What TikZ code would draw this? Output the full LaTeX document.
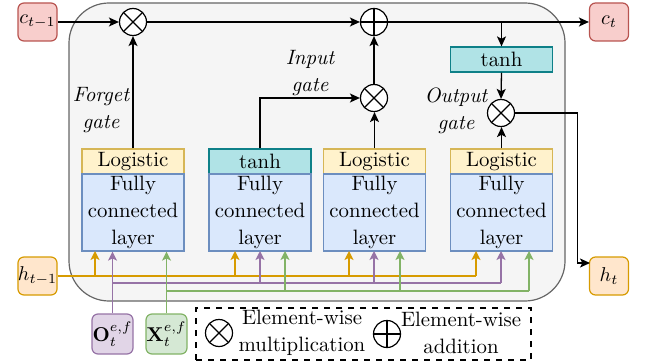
\documentclass[tikz,border=0pt]{standalone}
\usetikzlibrary{arrows.meta}
\definecolor{cellfill}{HTML}{F5F5F5}
\definecolor{celldraw}{HTML}{666666}
\definecolor{logfill}{HTML}{FFF2CC}
\definecolor{logdraw}{HTML}{D6B656}
\definecolor{fcfill}{HTML}{DAE8FC}
\definecolor{fcdraw}{HTML}{6C8EBF}
\definecolor{thfill}{HTML}{B0E3E6}
\definecolor{thdraw}{HTML}{0E8088}
\definecolor{cfill}{HTML}{F8CECC}
\definecolor{cdraw}{HTML}{B85450}
\definecolor{hfill}{HTML}{FFE6CC}
\definecolor{hdraw}{HTML}{D79B00}
\definecolor{ofill}{HTML}{E1D5E7}
\definecolor{odraw}{HTML}{9673A6}
\definecolor{xfill}{HTML}{D5E8D4}
\definecolor{xdraw}{HTML}{82B366}
\begin{document}
\begin{tikzpicture}[x=0.5pt,y=-0.5pt,
  font=\fontsize{10.4}{13.5}\selectfont,
  box/.style={draw, line width=0.6pt, inner sep=0pt, align=center},
  hdr/.style={box, minimum width=51pt, minimum height=12.5pt},
  logi/.style={hdr, fill=logfill, draw=logdraw},
  thbox/.style={hdr, fill=thfill, draw=thdraw},
  fcbox/.style={box, minimum width=51pt, minimum height=38.5pt, fill=fcfill, draw=fcdraw},
  term/.style={box, rounded corners=3pt, minimum width=19.5pt, minimum height=19pt},
  opbase/.style={circle, draw, fill=white, line width=0.6pt, minimum size=13.5pt, inner sep=0pt},
  otimes/.style={opbase, path picture={
     \draw[line width=0.6pt] (path picture bounding box.north west) -- (path picture bounding box.south east)
       (path picture bounding box.north east) -- (path picture bounding box.south west);}},
  oplus/.style={opbase, path picture={
     \draw[line width=0.6pt] (path picture bounding box.north) -- (path picture bounding box.south)
       (path picture bounding box.east) -- (path picture bounding box.west);}},
  lbl/.style={font=\fontsize{10.4}{13.5}\selectfont\itshape, align=center, inner sep=0pt},
  arr/.style={-{Stealth[length=5pt,width=4.5pt,inset=1.2pt]}, line width=0.65pt},
  oline/.style={draw=hdraw, line width=0.7pt},
  pline/.style={draw=odraw, line width=0.7pt},
  gline/.style={draw=xdraw, line width=0.7pt},
  oarr/.style={oline, -{Stealth[length=4.5pt,width=4.5pt,inset=1.1pt]}},
  parr/.style={pline, -{Stealth[length=4.5pt,width=4.5pt,inset=1.1pt]}},
  garr/.style={gline, -{Stealth[length=4.5pt,width=4.5pt,inset=1.1pt]}},
]
\useasboundingbox (0,0) rectangle (646,363);

% cell
\node[draw=celldraw, fill=cellfill, line width=0.6pt, rounded corners=20pt,
      minimum width=248pt, minimum height=149pt, inner sep=0pt] (cell) at (317,152) {};

% terminals
\node[term, fill=cfill, draw=cdraw] (cprev) at (37.5,22) {$c_{t-1}$};
\node[term, fill=cfill, draw=cdraw] (ct) at (609,22) {$c_t$};
\node[term, fill=hfill, draw=hdraw] (hprev) at (37.5,276) {$h_{t-1}$};
\node[term, fill=hfill, draw=hdraw] (ht) at (609,276) {$h_t$};
\node[box, rounded corners=3pt, minimum width=20.5pt, minimum height=20pt, fill=ofill, draw=odraw] (obox) at (112.5,334) {$\mathbf{O}_t^{e,f}$};
\node[box, rounded corners=3pt, minimum width=20.5pt, minimum height=20pt, fill=xfill, draw=xdraw] (xbox) at (166.5,334) {$\mathbf{X}_t^{e,f}$};

% gates
\node[logi] (log1) at (133,161.5) {Logistic};
\node[thbox] (th2) at (260,161.5) {tanh};
\node[logi] (log3) at (374.5,161.5) {Logistic};
\node[logi] (log4) at (501.5,161.5) {Logistic};
\node[fcbox] (fc1) at (133,212.5) {Fully\\connected\\layer};
\node[fcbox] (fc2) at (260,212.5) {Fully\\connected\\layer};
\node[fcbox] (fc3) at (374.5,212.5) {Fully\\connected\\layer};
\node[fcbox] (fc4) at (501.5,212.5) {Fully\\connected\\layer};
\node[thbox] (thtop) at (501.5,59.5) {tanh};

% operators
\node[otimes] (m1) at (133,22) {};
\node[oplus] (p1) at (374,22) {};
\node[otimes] (m2) at (374,98) {};
\node[otimes] (m3) at (501,113) {};

% labels
\node[lbl] (fgl) at (101,110.5) {Forget\\gate};
\node[lbl] (igl) at (310,73) {Input\\gate};
\node[lbl] (ogl) at (456,111) {Output\\gate};

% main connectors
\draw[arr] (cprev.east) -- (m1.west);
\draw[arr] (m1.east) -- (p1.west);
\draw[arr] (p1.east) -- (ct.west);
\coordinate (tsplit) at (thtop.north |- p1.center);
\draw[arr] (tsplit) -- (thtop.north);
\draw[arr] (thtop.south) -- (m3.north);
\draw[arr] (log1.north) -- (m1.south);
\draw[arr] (th2.north) |- (m2.west);
\draw[arr] (log3.north) -- (log3.north |- m2.south);
\draw[arr] (m2.north) -- (p1.south);
\draw[arr] (log4.north) -- (log4.north |- m3.south);
\coordinate (hturn) at (577.5,113);
\coordinate (hin) at (590,263);
\draw[arr] (m3.east) -- (hturn) |- (hin);

% input buses
\coordinate (oE) at (476,276);
\coordinate (pE) at (501,283);
\coordinate (gE) at (529,291);
\draw[oline] (hprev.east) -- (oE);
\coordinate (pS) at (112.5,283);
\draw[pline] (pS) -- (pE);
\coordinate (gS) at (166.5,291);
\draw[gline] (gS) -- (gE);

\draw[parr] (obox.north) -- (obox.north |- fc1.south);
\draw[garr] (xbox.north) -- (xbox.north |- fc1.south);
\foreach \x in {95,235,349,476} {\draw[oarr] (\x,276) -- (\x,251);}
\foreach \x in {260,374,501} {\draw[parr] (\x,283) -- (\x,251);}
\foreach \x in {285,400,529} {\draw[garr] (\x,291) -- (\x,251);}

% legend
\node[draw, dashed, line width=0.6pt, minimum width=167.5pt, minimum height=26pt, inner sep=0pt] (leg) at (363.5,334) {};
\node[otimes, fill=none] (lm) at (219,333) {};
\node[align=center, inner sep=0pt] (lmt) at (302,333) {Element-wise\\multiplication};
\node[oplus, fill=none] (lp) at (387,334) {};
\node[align=center, inner sep=0pt] (lpt) at (461,333) {Element-wise\\addition};
\end{tikzpicture}
\end{document}
